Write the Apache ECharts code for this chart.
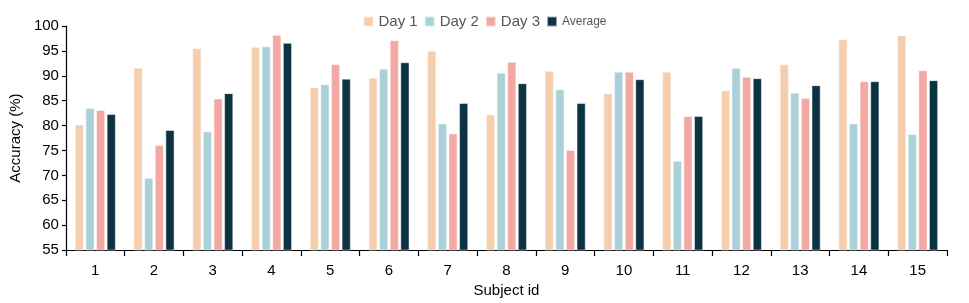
<!DOCTYPE html>
<html>
<head>
<meta charset="utf-8">
<script src="https://cdn.jsdelivr.net/npm/echarts@6/dist/echarts.min.js"></script>
<style>html,body{margin:0;padding:0;background:#fff}#c{width:969px;height:303px}</style>
</head>
<body>
<div id="c"></div>
<script>
const subjects = ['1','2','3','4','5','6','7','8','9','10','11','12','13','14','15'];
const day1 = [80.2, 91.6, 95.5, 95.8, 87.7, 89.6, 95.0, 82.2, 91.0, 86.5, 90.8, 87.1, 92.3, 97.3, 98.1];
const day2 = [83.5, 69.5, 78.8, 95.9, 88.3, 91.4, 80.4, 90.6, 87.3, 90.8, 72.9, 91.6, 86.6, 80.4, 78.3];
const day3 = [83.1, 76.1, 85.4, 98.2, 92.3, 97.1, 78.4, 92.8, 75.1, 90.8, 81.9, 89.8, 85.5, 88.9, 91.1];
const average = [82.3, 79.1, 86.5, 96.6, 89.4, 92.7, 84.5, 88.5, 84.5, 89.3, 81.9, 89.5, 88.1, 88.9, 89.1];
const yTicks = [55, 100, 5];

const colors = ['#F5CEAD', '#AAD0D8', '#F2A8A3', '#0C3341'];
const font = 'Liberation Sans, Arial, sans-serif';
function bar(name, data, color) {
  return {
    name: name, type: 'bar', data: data,
    barWidth: 9, barGap: '18%',
    itemStyle: { color: color, borderColor: 'rgba(255,255,255,0.6)', borderWidth: 0.8 }
  };
}
const chart = echarts.init(document.getElementById('c'));
chart.setOption({
  animation: false,
  textStyle: { fontFamily: font },
  legend: {
    top: 9, left: 'center', itemWidth: 10, itemHeight: 10, itemGap: 6,
    icon: 'rect',
    textStyle: { color: '#555', fontSize: 15, fontFamily: font },
    data: [
      { name: 'Day 1' }, { name: 'Day 2' }, { name: 'Day 3' },
      { name: 'Average', textStyle: { fontSize: 12 } }
    ]
  },
  grid: { left: 64, right: 22, top: 26, bottom: 52 },
  xAxis: {
    type: 'category', data: subjects,
    name: 'Subject id', nameLocation: 'middle', nameGap: 31,
    nameTextStyle: { fontSize: 15, color: '#000', fontFamily: font },
    axisLine: { lineStyle: { color: '#000', width: 1.2 } },
    axisTick: { show: true, length: 6, lineStyle: { color: '#000', width: 1.2 } },
    axisLabel: { color: '#000', fontSize: 15, margin: 13, fontFamily: font },
    splitLine: { show: false }
  },
  yAxis: {
    type: 'value', min: yTicks[0], max: yTicks[1], interval: yTicks[2],
    name: 'Accuracy (%)', nameLocation: 'middle', nameGap: 40,
    nameTextStyle: { fontSize: 15, color: '#000', fontFamily: font },
    axisLine: { show: true, lineStyle: { color: '#000', width: 1.2 } },
    axisTick: { show: true, length: 4, lineStyle: { color: '#000', width: 1.2 } },
    axisLabel: { color: '#000', fontSize: 15, margin: 7, fontFamily: font },
    splitLine: { show: false }
  },
  series: [
    bar('Day 1', day1, colors[0]),
    bar('Day 2', day2, colors[1]),
    bar('Day 3', day3, colors[2]),
    bar('Average', average, colors[3])
  ]
});
</script>
</body>
</html>
